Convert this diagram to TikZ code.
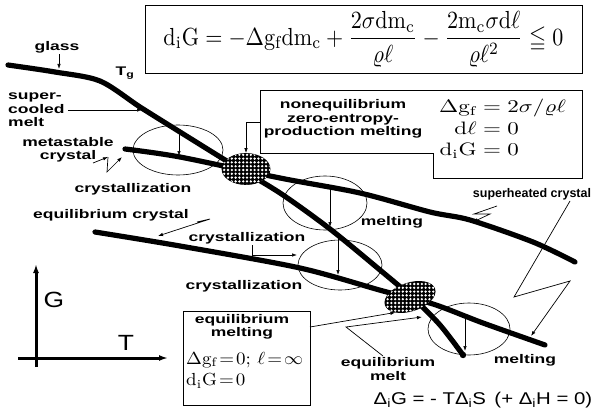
\documentclass[tikz,border=0pt]{standalone}
\usepackage{amsmath,amssymb}
\usepackage{graphicx}
\usepackage{fontspec}
\usetikzlibrary{shapes.geometric,arrows.meta,patterns.meta}
\newfontfamily\lab[FakeStretch=1.4]{Liberation Sans}
\newfontfamily\plainsans{Liberation Sans}
\newfontfamily\widesans[FakeStretch=1.2]{Liberation Sans}
\setlength{\jot}{0pt}
\begin{document}
\begin{tikzpicture}[x=1pt,y=-1pt,
  lbl/.style={font=\lab\bfseries\fontsize{12.5}{13.5}\selectfont, inner sep=0pt, align=center},
  arr/.style={-{Latex[length=5pt,width=3.5pt]}, line width=0.7pt},
  curve/.style={line width=5.2pt, line cap=round, line join=round},
  ell/.style={ellipse, draw, line width=0.6pt, inner sep=0pt},
  blob/.style={ellipse, draw, line width=0.8pt, fill=black, inner sep=0pt,
    postaction={pattern={Dots[distance=3.8pt,radius=1.3pt]}, pattern color=white}},
  axis/.style={line width=3pt, -{Latex[length=9pt,width=6pt]}},
  boxln/.style={line width=0.8pt}]
\useasboundingbox[fill=white] (0,0) rectangle (596,417);

% ellipses (thin)
\node[ell, minimum width=90pt, minimum height=50pt] (E1) at (178,150) {};
\node[ell, minimum width=84pt, minimum height=54pt] (E2) at (325,203) {};
\node[ell, minimum width=84pt, minimum height=50pt] (E3) at (340,265) {};
\node[ell, minimum width=82pt, minimum height=52pt] (E4) at (469,329) {};

% thick curves
\draw[curve] plot[smooth, tension=0.5] coordinates {(8,65) (55,72) (100,81) (140,107) (180,132) (230,163) (280,193) (330,229) (380,270) (413,298) (440,325) (463,355)};
\draw[curve] plot[smooth, tension=0.5] coordinates {(125,149) (180,157) (280,178) (360,193) (430,212) (470,220) (533,242) (575,262)};
\draw[curve] plot[smooth, tension=0.5] coordinates {(95,232) (180,246) (300,268) (383,291) (433,304) (483,323) (545,345)};
\fill (463,355) circle (3.2);

% blobs
\node[blob, minimum width=48pt, minimum height=31pt] (blobA) at (246,169) {};
\node[blob, minimum width=52pt, minimum height=28pt, rotate=18] (blobB) at (410,297) {};

% vertical arrows inside ellipses
\coordinate (v1a) at (179,131); \coordinate (v1b) at (179,156);
\coordinate (v2a) at (330,187); \coordinate (v2b) at (330,227);
\coordinate (v3a) at (338,236); \coordinate (v3b) at (338,275);
\coordinate (v4a) at (465,316); \coordinate (v4b) at (465,351);
\draw[arr] (v1a) -- (v1b);
\draw[arr] (v2a) -- (v2b);
\draw[arr] (v3a) -- (v3b);
\draw[arr] (v4a) -- (v4b);

% top equation box
\node[draw, boxln, minimum width=437pt, minimum height=68pt, inner sep=0pt] (eqtop) at (363.5,39)
 {\scalebox{1}[1.12]{\resizebox{400pt}{!}{$\displaystyle \mathrm{d_iG} = -\Delta\mathrm{g_f}\mathrm{dm_c} + \frac{2\sigma\mathrm{dm_c}}{\varrho\ell} - \frac{2\mathrm{m_c}\sigma\mathrm{d}\ell}{\varrho\ell^2} \leqq 0$}}};

% nonequilibrium box
\draw[boxln] (260,90) -- (582,90) -- (582,178) -- (433,178) -- (433,153) -- (260,153) -- cycle;
\node[lbl] (neqtxt) at (343,119) {nonequilibrium\\zero-entropy-\\production melting};
\node[anchor=west, inner sep=0pt] (neqm) at (439,130)
 {\scalebox{2.3}[1.8]{$\begin{aligned}\Delta\mathrm{g_f} &= 2\sigma/\varrho\ell\\ \mathrm{d}\ell &= 0\\ \mathrm{d_iG} &= 0\end{aligned}$}};
\coordinate (neqL) at (260,122);
\draw[arr] (neqL) -| (blobA.north);

% equilibrium melting box
\node[draw, boxln, minimum width=127pt, minimum height=94pt, inner sep=0pt] (eqbox) at (246.5,358) {};
\node[lbl] (eqbt) at (242,327) {equilibrium\\melting};
\node[anchor=west, inner sep=0pt] (eqbm1) at (186,360)
 {\scalebox{1.9}[1.75]{$\Delta\mathrm{g_f}\!=\!0;\,\ell\!=\!\infty$}};
\node[anchor=west, inner sep=0pt] (eqbm2) at (186,381)
 {\scalebox{1.9}[1.75]{$\mathrm{d_iG}\!=\!0$}};
\coordinate (eqbE) at (310,327);
\draw[arr] (eqbE) -- (blobB.south west);

% labels
\node[lbl] (glass) at (57,47) {glass};
\coordinate (glassT) at (59,69);
\draw[arr] (glass.south) ++(2,1) -- (glassT);
\node[lbl] (Tg) at (125,73) {T$_\text{g}$};
\node[lbl, align=left, anchor=west] (scm) at (8,110) {super-\\cooled\\melt};
\coordinate (scmT) at (142,110);
\draw[arr] (scm.east) ++(3,0) -- (scmT);
\node[lbl] (meta) at (68,150) {metastable\\crystal};
\node[lbl] (cry1) at (133,189) {crystallization};
\coordinate (z1a) at (93,163); \coordinate (z1b) at (108,157);
\coordinate (z1c) at (107,172); \coordinate (z1d) at (122,157);
\draw[arr] (z1a) -- (z1b);
\draw[arr] (z1b) -- (z1c) -- (z1d);

\node[lbl] (eqcry) at (111,215) {equilibrium crystal};
\coordinate (ec1) at (197,222); \coordinate (ec2) at (210,219); \coordinate (ec3) at (158,236);
\draw[arr] (ec1) -- (ec2) -- (ec3);

\node[lbl] (cry2) at (247,238) {crystallization};
\coordinate (c2a) at (252,245); \coordinate (c2b) at (297,255);
\draw[arr] (c2a) |- (c2b);
\node[lbl] (cry3) at (244,286) {crystallization};

\node[lbl] (melt1) at (392,222) {melting};
\node[lbl] (melt2) at (525,360) {melting};

\node[lbl, font=\plainsans\bfseries\fontsize{12.5}{13.5}\selectfont] (shc) at (532,194) {superheated crystal};
\coordinate (s1a) at (497,206); \coordinate (s1b) at (474,214);
\coordinate (s1c) at (490,214); \coordinate (s1d) at (473,222);
\draw[arr] (s1a) -- (s1b) -- (s1c) -- (s1d);
\coordinate (s2a) at (570,201); \coordinate (s2b) at (514,297);
\coordinate (s2c) at (570,281); \coordinate (s2d) at (531,336);
\draw[arr] (s2a) -- (s2b) -- (s2c) -- (s2d);

\node[lbl] (eqmelt) at (388,369) {equilibrium\\melt};
\coordinate (em1) at (383,356); \coordinate (em2) at (346,327); \coordinate (em3) at (422,317);
\draw[arr] (em1) -- (em2) -- (em3);

% axes
\coordinate (ax0) at (36,367); \coordinate (axG) at (36,264);
\coordinate (ax1) at (18,358); \coordinate (axT) at (168,358);
\draw[axis] (ax0) -- (axG);
\draw[axis] (ax1) -- (axT);
\node[font=\widesans\fontsize{22}{24}\selectfont, inner sep=0pt] (G) at (54,300) {G};
\node[font=\widesans\fontsize{22}{24}\selectfont, inner sep=0pt] (T) at (126,343) {T};

% bottom formula
\node[font=\widesans\fontsize{17}{19}\selectfont, inner sep=0pt] (bf) at (483,400)
 {Δ\textsubscript{i}G = - TΔ\textsubscript{i}S\enspace(+ Δ\textsubscript{i}H = 0)};
\end{tikzpicture}
\end{document}
